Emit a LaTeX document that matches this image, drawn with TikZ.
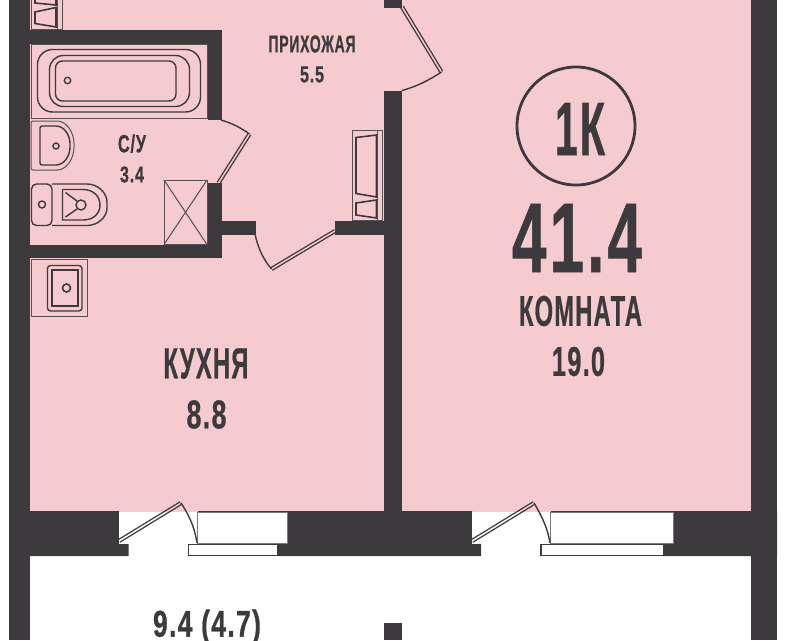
\documentclass[tikz,border=0pt]{standalone}
\usepackage{fontspec}
\usepackage{graphicx}
\setmainfont[BoldFont={Liberation Sans Bold}]{Liberation Sans}
\usetikzlibrary{calc}
\definecolor{wallc}{HTML}{3C3A3D}
\definecolor{pinkc}{HTML}{F6CBCF}
\definecolor{greyc}{HTML}{7A787B}
\tikzset{
  wall/.style={fill=wallc,draw=none},
  thing/.style={draw=wallc,line width=1.4pt,fill=none},
  thin thing/.style={draw=wallc!85!pinkc,line width=1pt,fill=none},
  lab/.style={inner sep=0pt,outer sep=0pt,text=wallc,anchor=center},
}
\newcommand{\lbl}[6]{\node[lab] (#1) at (#2,#3) {\resizebox{#4pt}{#5pt}{\bfseries\addfontfeature{FakeBold=0.8,LetterSpace=5}#6}};}
\newcommand{\leaf}[4]{%
  \coordinate (la) at (#1); \coordinate (lb) at (#2);
  \draw[thing,line width=1.2pt] ($(la)!1.5pt!90:(lb)$) -- ($(lb)!1.5pt!-90:(la)$);
  \draw[thing,line width=1.2pt] ($(la)!1.5pt!-90:(lb)$) -- ($(lb)!1.5pt!90:(la)$);
  \draw[thing] (#2) .. controls #3 .. #4;}
\begin{document}
\begin{tikzpicture}[x=1pt,y=-1pt]
\useasboundingbox (0,0) rectangle (789,640);
\clip (0,0) rectangle (789,640);
\fill[white] (0,0) rectangle (789,640);
\fill[pinkc] (30,0) rectangle (751,512);
% outer walls
\fill[wall] (9,0) rectangle (30,640);
\fill[wall] (751,0) rectangle (777,640);
% balcony wall
\fill[wall] (9,511) -- (119,511) -- (119,543.5) -- (128.5,543.5) -- (128.5,556) -- (9,556) -- cycle;
\fill[wall] (287,511) -- (472,511) -- (472,543.5) -- (481,543.5) -- (481,556) -- (278,556) -- (278,543.5) -- (287,543.5) -- cycle;
\fill[wall] (673,511) -- (777,511) -- (777,556) -- (664,556) -- (664,543.5) -- (673,543.5) -- cycle;
\fill[white] (119,511.5) rectangle (197,543.5);
\fill[white] (472,511.5) rectangle (550,543.5);
\draw[greyc,line width=1pt,fill=white] (197.5,512) rectangle (287,543);
\draw[greyc,line width=1pt,fill=white] (550.5,512) rectangle (673,543);
\draw[wallc,line width=1.4pt,fill=white] (188.5,544.5) rectangle (278,555.5);
\draw[wallc,line width=1.4pt,fill=white] (541,544.5) rectangle (664,555.5);
\draw[wallc,line width=1.2pt] (197.5,511.5) -- (287,511.5);
\draw[wallc,line width=1.2pt] (550.5,511.5) -- (673,511.5);
% middle walls
\fill[wall] (384,91) rectangle (402,511);
\fill[wall] (384,0) rectangle (402,8);
\fill[wall] (383.5,623) rectangle (402,640);
% bathroom walls
\fill[wall] (30,30) rectangle (221.5,44);
\fill[wall] (208,30) rectangle (221.5,120);
\fill[wall] (208,183) rectangle (221.5,258);
\fill[wall] (30,245) rectangle (221.5,258);
\fill[wall] (221,221) rectangle (255.5,234.5);
\fill[wall] (334.5,221) rectangle (384,234.5);
% doors
\leaf{119,541}{181,503}{(191,518) and (195,530)}{(197,543)}
\leaf{472,541}{534,503}{(543,518) and (548,530)}{(550,543)}
\leaf{402,7}{441.5,72}{(428,81) and (415,87)}{(402,90.5)}
\leaf{218.5,183}{249.5,134}{(240,127) and (231,123)}{(221,120)}
\leaf{335,231}{271.5,269}{(263,259) and (258,248)}{(255,234)}
% bathtub
\draw[thin thing] (31,44.5) rectangle (207,118);
\draw[thing,rounded corners=15pt] (37.5,49.5) rectangle (200.5,112);
\draw[thing,rounded corners=14pt] (49.5,55.5) rectangle (189.5,106.5);
\draw[thing,rounded corners=7pt] (55.5,61) rectangle (176,101);
\draw[thing] (67.5,80.5) circle (3.2pt);
% washbasin
\draw[thin thing,rounded corners=2pt] (31,121) -- (55,121) .. controls (67,121) and (74,133) .. (74,145.5) .. controls (74,158) and (67,170) .. (55,170) -- (31,170) -- cycle;
\draw[thing,rounded corners=2pt] (40,126) -- (54,126) .. controls (64,126) and (70,135) .. (70,145.5) .. controls (70,156) and (64,165) .. (54,165) -- (40,165) -- cycle;
\draw[thing] (56,146) circle (3pt);
% toilet
\draw[thing,rounded corners=5pt] (31.5,184) rectangle (52,225.5);
\draw[thing] (42,204.5) circle (3.5pt);
\draw[thing,rounded corners=3pt] (52,184) -- (84,184) .. controls (98,184) and (107,193) .. (107,205) .. controls (107,217) and (98,225.5) .. (84,225.5) -- (52,225.5);
\draw[thing] (62.5,189.5) -- (83,189.5) .. controls (93,189.5) and (100,196) .. (100,205) .. controls (100,214) and (93,220) .. (83,220) -- (62.5,220) -- cycle;
\draw[thing] (81,205) circle (5pt);
\draw[thing] (65.5,192.5) -- (77,201);
\draw[thing] (65.5,217) -- (77,209);
% shaft
\draw[thin thing] (164,180) rectangle (207,244.5);
\draw[thin thing] (164,180) -- (207,244.5);
\draw[thin thing] (207,180) -- (164,244.5);
% hall closet
\draw[thin thing] (352,130.5) rectangle (382.5,220.5);
\draw[thin thing] (377,130.5) -- (377,220.5);
\draw[thing,line width=1.6pt] (356,137.5) -- (376.5,135) -- (376.5,197) -- (356,193.5) -- cycle;
\draw[thing,line width=1.6pt] (356,203) -- (376.5,200) -- (376.5,218) -- (356,215) -- cycle;
% upper closet
\draw[thin thing] (31,-2) -- (31,29) -- (62,29) -- (62,-2);
\draw[thin thing] (57,-2) -- (57,29);
\draw[thing,line width=1.6pt] (35,12) -- (56,7.5) -- (56,27) -- (35,23.5) -- cycle;
\draw[thing,line width=1.6pt] (35,-2) -- (35,3) -- (56,5) -- (56,-2);
% kitchen sink
\draw[thin thing] (31,259) -- (87,259) -- (87,316.5) -- (31,316.5) -- cycle;
\draw[thing,rounded corners=3pt] (47.5,265.5) rectangle (82,311);
\draw[thing,line width=1.6pt] (52,270) rectangle (78,306);
\draw[thing,line width=1.6pt] (66.5,288) circle (4pt);
% labels
\lbl{hallname}{312}{44}{87}{17}{ПРИХОЖАЯ}
\lbl{hallarea}{312}{74.5}{24}{16}{5.5}
\lbl{bathname}{132}{143.5}{28}{18}{С/У}
\lbl{batharea}{132}{174.5}{24}{16}{3.4}
\lbl{kitchenname}{206}{363.5}{85}{30}{КУХНЯ}
\lbl{kitchenarea}{206.5}{414.5}{40}{28}{8.8}
\node[draw=wallc,line width=2.8pt,circle,minimum size=118pt,inner sep=0pt] (ring) at (576,126) {};
\lbl{onek}{580}{129}{50}{52}{1К}
\lbl{total}{577}{238}{130}{68}{41.4}
\lbl{roomname}{580.5}{311}{123}{30}{КОМНАТА}
\lbl{roomarea}{578.5}{361.5}{53}{29}{19.0}
\lbl{balcony}{207}{627}{108}{27}{9.4 (4.7)}
\end{tikzpicture}
\end{document}
